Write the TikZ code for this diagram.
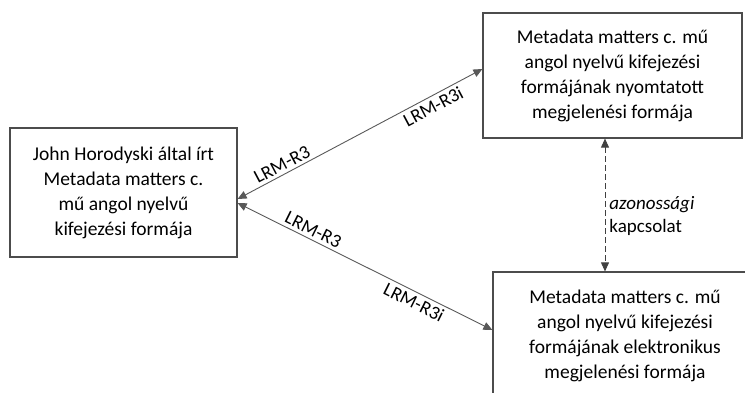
\documentclass[tikz,border=0pt]{standalone}
\usepackage{fontspec}
\setmainfont{Carlito}
\usetikzlibrary{arrows.meta}

\tikzset{
    doboz/.style={draw=black!70, line width=1.2pt, align=center, inner sep=0pt,
        font=\fontsize{19.5}{25}\selectfont},
    kapcs/.style={{Triangle[length=9pt,width=8pt]}-{Triangle[length=9pt,width=8pt]},
        draw=black!65, line width=0.9pt},
    cimke/.style={font=\fontsize{19}{22}\selectfont, sloped, inner sep=3pt}
}

\begin{document}
\begin{tikzpicture}[x=1pt, y=-1pt]

    \useasboundingbox (0,0) rectangle (745,392);

    \node[doboz, minimum width=227pt, minimum height=129pt] (kif) at (123.5,192.5)
        {John Horodyski által írt\\Metadata matters c.\\mű angol nyelvű\\kifejezési formája};
    \node[doboz, minimum width=259pt, minimum height=125pt] (nyomt) at (612.5,75.5)
        {Metadata matters c. mű\\angol nyelvű kifejezési\\formájának nyomtatott\\megjelenési formája};
    \node[doboz, minimum width=264pt, minimum height=128pt] (elekt) at (625,336)
        {Metadata matters c. mű\\angol nyelvű kifejezési\\formájának elektronikus\\megjelenési formája};

    \coordinate (dsz) at (605,0);

    \draw[kapcs] ([yshift=-6.5pt]kif.east) -- node[cimke, pos=0.2, above] {LRM-R3}
        node[cimke, pos=0.78, below] {LRM-R3i} ([yshift=6.5pt]nyomt.west);
    \draw[kapcs] ([yshift=-10.5pt]kif.east) -- node[cimke, pos=0.28, above] {LRM-R3}
        node[cimke, pos=0.71, below] {LRM-R3i} ([yshift=6pt]elekt.west);

    \draw[kapcs, draw=black!75, dash pattern=on 6pt off 3pt] (nyomt.south -| dsz) -- node[pos=0.58, right, align=left, inner sep=4pt,
        font=\fontsize{19}{23}\selectfont] {\textit{azonossági}\\kapcsolat} (elekt.north -| dsz);

\end{tikzpicture}
\end{document}
